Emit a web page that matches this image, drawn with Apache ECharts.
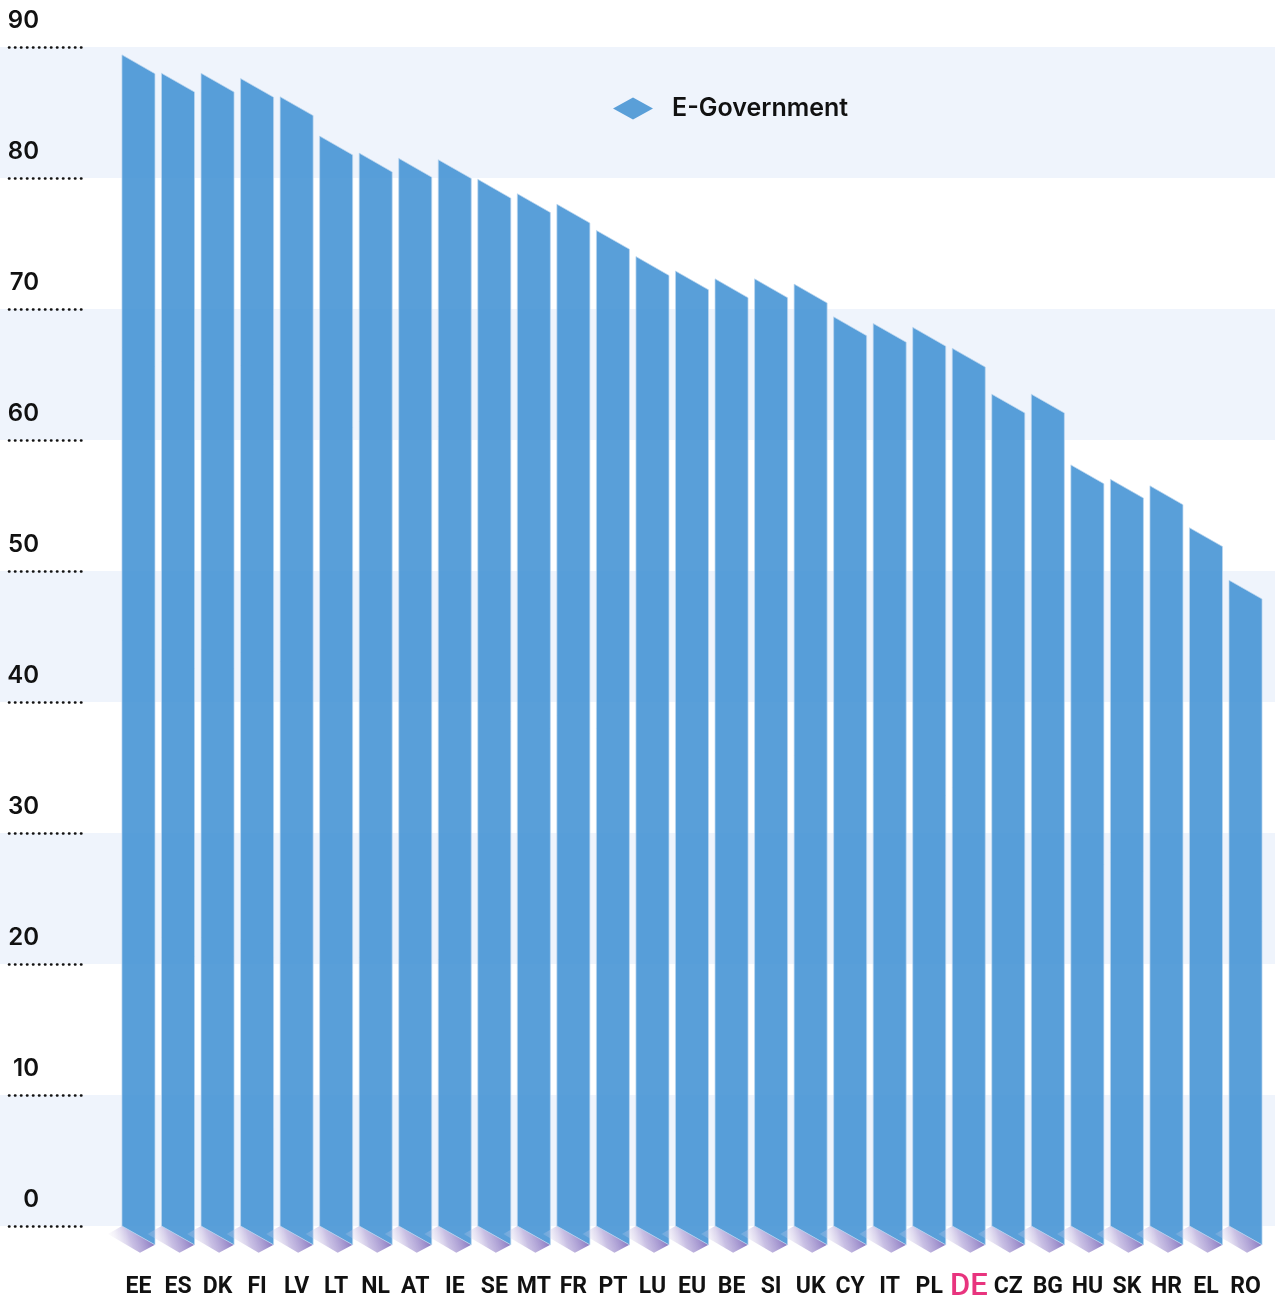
<!DOCTYPE html>
<html>
<head>
<meta charset="utf-8">
<script src="https://cdn.jsdelivr.net/npm/echarts@6/dist/echarts.min.js"></script>
<style>
  html, body { margin: 0; padding: 0; background: #fff; }
  #main { width: 1275px; height: 1298px; }
</style>
</head>
<body>
<div id="main"></div>
<script>
// countries, left to right
var countries = ['EE', 'ES', 'DK', 'FI', 'LV', 'LT', 'NL', 'AT', 'IE', 'SE', 'MT', 'FR', 'PT', 'LU', 'EU',
  'BE', 'SI', 'UK', 'CY', 'IT', 'PL', 'DE', 'CZ', 'BG', 'HU', 'SK', 'HR', 'EL', 'RO'];

// E-Government score
var eGov = [89.4, 88.0, 88.0, 87.6, 86.2, 83.2, 81.9, 81.5, 81.4, 79.9, 78.8, 78.0, 76.0, 74.0, 72.9,
  72.3, 72.3, 71.9, 69.4, 68.9, 68.6, 67.0, 63.5, 63.5, 58.1, 57.0, 56.5, 53.3, 49.3];

var yTicks = [0, 10, 20, 30, 40, 50, 60, 70, 80, 90];

var labelFont = "Roboto, 'Liberation Sans Narrow', sans-serif";

var chart = echarts.init(document.getElementById('main'), null, { renderer: 'canvas' });

function renderBar(params, api) {
  var i = api.value(0);
  var top = api.coord([i, api.value(1)]);
  var base = api.coord([i, 0]);
  var w = api.size([1, 0])[0] * 0.835;
  var L = top[0] - w / 2;
  var R = top[0] + w / 2;
  var slant = w * 0.57;

  return {
    type: 'group',
    children: [
      {
        // shadow under the bar
        type: 'polygon',
        shape: {
          points: [[L, base[1]], [R, base[1] + slant], [R - 15, base[1] + slant + 8], [L - 14, base[1] + 8]]
        },
        style: {
          fill: new echarts.graphic.LinearGradient(1, 0.3, 0, 0.9, [
            { offset: 0, color: 'rgba(118,98,182,0.95)' },
            { offset: 0.5, color: 'rgba(165,150,210,0.6)' },
            { offset: 1, color: 'rgba(255,255,255,0)' }
          ])
        }
      },
      {
        type: 'polygon',
        shape: {
          points: [[L, top[1]], [R, top[1] + slant], [R, base[1] + slant], [L, base[1]]]
        },
        style: {
          fill: 'rgba(66,146,212,0.88)',
          stroke: 'rgba(190,215,240,0.7)',
          lineWidth: 1
        }
      }
    ]
  };
}

var option = {
  animation: false,
  legend: {
    data: [{ name: 'E-Government', icon: 'diamond' }],
    left: 608,
    top: 91,
    itemWidth: 40,
    itemHeight: 22,
    textStyle: {
      fontFamily: 'Inter',
      fontWeight: 600,
      fontSize: 25,
      color: '#111',
      padding: [0, 0, 0, 14]
    }
  },
  grid: [
    { left: 0, right: 0, top: 47, bottom: 72, outerBoundsMode: 'none' },
    { left: 118.7, right: 9.7, top: 47, bottom: 72, outerBoundsMode: 'none' }
  ],
  xAxis: [
    { gridIndex: 0, type: 'value', show: false, min: 0, max: 1 },
    {
      gridIndex: 1,
      type: 'category',
      data: countries,
      axisLine: { show: false },
      axisTick: { show: false },
      axisLabel: {
        interval: 0,
        margin: 46,
        formatter: function (v) {
          return v === 'DE' ? '{de|' + v + '}' : '{n|' + v + '}';
        },
        rich: {
          n: {
            fontFamily: labelFont,
            fontWeight: 'bold',
            fontSize: 23,
            lineHeight: 23,
            padding: [8, 0, 0, 0],
            color: '#111'
          },
          de: {
            fontFamily: labelFont,
            fontWeight: 500,
            fontSize: 31,
            lineHeight: 31,
            color: '#e8347e'
          }
        }
      }
    }
  ],
  yAxis: [
    {
      gridIndex: 0,
      type: 'value',
      min: 0,
      max: 90,
      interval: 10,
      offset: -9,
      axisLine: { show: false },
      axisTick: {
        show: true,
        inside: true,
        length: 77,
        lineStyle: { color: '#111', width: 2.6, type: [0.4, 5.6], cap: 'round' }
      },
      axisLabel: {
        inside: true,
        margin: 30,
        align: 'right',
        verticalAlign: 'bottom',
        padding: [0, 0, 14, 0],
        fontFamily: 'Inter',
        fontWeight: 600,
        fontSize: 24,
        color: '#111',
        formatter: function (v) { return yTicks.indexOf(v) >= 0 ? String(v) : ''; }
      },
      splitLine: { show: false },
      splitArea: { show: true, areaStyle: { color: ['#eff4fc', '#ffffff'] } }
    },
    { gridIndex: 1, type: 'value', min: 0, max: 90, show: false, splitLine: { show: false } }
  ],
  series: [
    {
      name: 'E-Government',
      type: 'custom',
      xAxisIndex: 1,
      yAxisIndex: 1,
      color: '#5a9fd8',
      renderItem: renderBar,
      encode: { x: 0, y: 1 },
      data: eGov.map(function (v, i) { return [i, v]; })
    }
  ]
};

chart.setOption(option);
</script>
</body>
</html>
